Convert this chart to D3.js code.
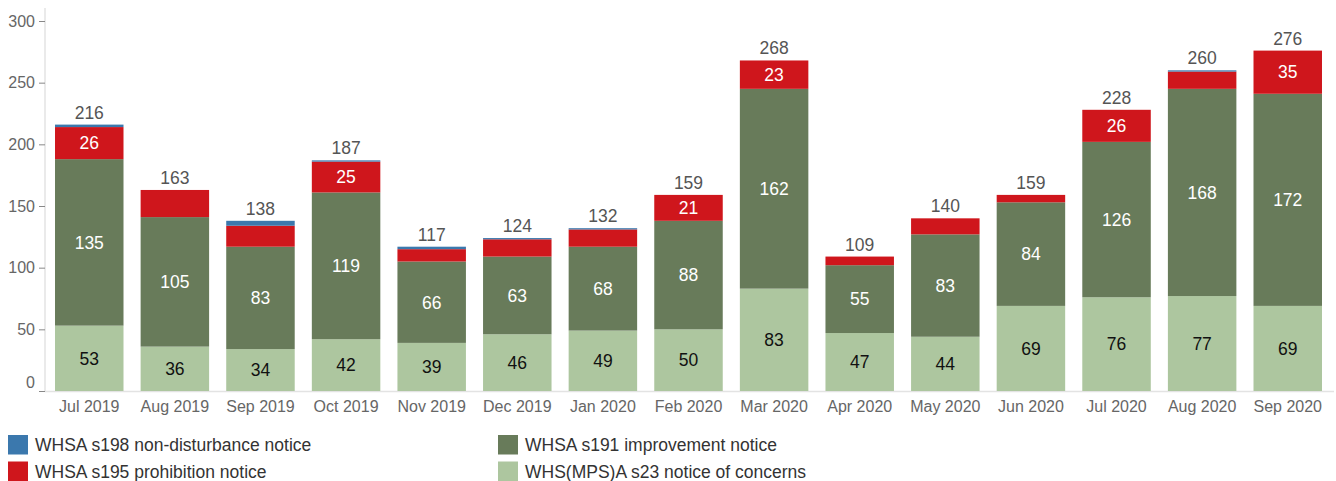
<!DOCTYPE html>
<html><head><meta charset="utf-8">
<script src="https://cdn.jsdelivr.net/npm/d3@7"></script>
<style>
body{margin:0;background:#fff;}
svg{display:block;font-family:"Liberation Sans",Arial,sans-serif;}
</style></head>
<body><svg id="c" width="1336" height="481"></svg>
<script>
const months = ["Jul 2019","Aug 2019","Sep 2019","Oct 2019","Nov 2019","Dec 2019","Jan 2020","Feb 2020","Mar 2020","Apr 2020","May 2020","Jun 2020","Jul 2020","Aug 2020","Sep 2020"];
const s23  = [53,36,34,42,39,46,49,50,83,47,44,69,76,77,69];
const s191 = [135,105,83,119,66,63,68,88,162,55,83,84,126,168,172];
const s195 = [26,22,17,25,10,14,14,21,23,7,13,6,26,14,35];
const s198 = [2,0,4,1,2,1,1,0,0,0,0,0,0,1,0];
const yTicks = [0,50,100,150,200,250,300];
const seriesNames = ["WHS(MPS)A s23 notice of concerns","WHSA s191 improvement notice","WHSA s195 prohibition notice","WHSA s198 non-disturbance notice"];
const hiddenLabels = ["Aug 2019"]; // red label not shown in source for this month
const labelMin = 20;

const keys = ["s23","s191","s195","s198"];
const colors = {s23:"#adc69f", s191:"#687b5a", s195:"#cf161c", s198:"#3b78ad"};
const textColors = {s23:"#111", s191:"#fff", s195:"#fff", s198:"#fff"};
const rows = months.map((m,i)=>({month:m, s23:s23[i], s191:s191[i], s195:s195[i], s198:s198[i]}));

const svg = d3.select("#c");
const x = d3.scaleBand().domain(months).range([45,1332]).paddingInner(0.2).paddingOuter(0.117);
const y = d3.scaleLinear().domain([0,300]).range([391,21]);

const stack = d3.stack().keys(keys)(rows);

// axes lines
svg.append("line").attr("x1",45).attr("x2",45).attr("y1",8).attr("y2",391).attr("stroke","#e3e3e3").attr("stroke-width",1.5);
svg.append("line").attr("x1",45).attr("x2",1334).attr("y1",391.5).attr("y2",391.5).attr("stroke","#e3e3e3").attr("stroke-width",1.5);

const yAxis = svg.append("g").attr("transform","translate(45,0)")
  .call(d3.axisLeft(y).tickValues(yTicks).tickSize(6).tickPadding(4));
yAxis.select(".domain").remove();
yAxis.selectAll(".tick line").attr("stroke","#888");
yAxis.selectAll(".tick text").attr("fill","#666").attr("font-size","16px")
  .attr("font-family","'Liberation Sans',Arial,sans-serif")
  .attr("dy", d => d===0 ? "-0.25em" : "0.32em");

const xAxis = svg.append("g").attr("transform","translate(0,391)")
  .call(d3.axisBottom(x).tickSize(0).tickPadding(10));
xAxis.select(".domain").remove();
xAxis.selectAll(".tick text").attr("fill","#666").attr("font-size","16px")
  .attr("font-family","'Liberation Sans',Arial,sans-serif");

// bars
const layers = svg.append("g").selectAll("g").data(stack).join("g")
  .attr("fill", d => colors[d.key]);
layers.selectAll("rect").data(d => d).join("rect")
  .attr("x", d => x(d.data.month))
  .attr("width", x.bandwidth())
  .attr("y", d => y(d[1]))
  .attr("height", d => y(d[0]) - y(d[1]));

// segment labels
stack.forEach(layer => {
  svg.append("g").selectAll("text").data(layer.filter(d => (d[1]-d[0]) >= labelMin && !(layer.key==="s195" && hiddenLabels.includes(d.data.month))))
    .join("text")
    .attr("x", d => x(d.data.month) + x.bandwidth()/2)
    .attr("y", d => (y(d[0]) + y(d[1]))/2)
    .attr("dy","0.36em")
    .attr("text-anchor","middle")
    .attr("font-size","17.5px")
    .attr("fill", textColors[layer.key])
    .text(d => d[1]-d[0]);
});

// totals
svg.append("g").selectAll("text").data(rows).join("text")
  .attr("x", d => x(d.month) + x.bandwidth()/2)
  .attr("y", d => y(d.s23+d.s191+d.s195+d.s198) - 6)
  .attr("text-anchor","middle")
  .attr("font-size","17.5px")
  .attr("fill","#555")
  .text(d => d.s23+d.s191+d.s195+d.s198);

// legend
const legendItems = [
  {key:"s198", name:seriesNames[3], col:0, row:0},
  {key:"s195", name:seriesNames[2], col:0, row:1},
  {key:"s191", name:seriesNames[1], col:1, row:0},
  {key:"s23",  name:seriesNames[0], col:1, row:1}
];
const lg = svg.append("g").selectAll("g").data(legendItems).join("g")
  .attr("transform", d => `translate(${d.col===0?8:498},${435 + d.row*26.5})`);
lg.append("rect").attr("width",20).attr("height",19.5).attr("fill", d => colors[d.key]);
lg.append("text").attr("x",27).attr("y",16).attr("font-size","17.5px").attr("fill","#333").text(d => d.name);
</script></body></html>
